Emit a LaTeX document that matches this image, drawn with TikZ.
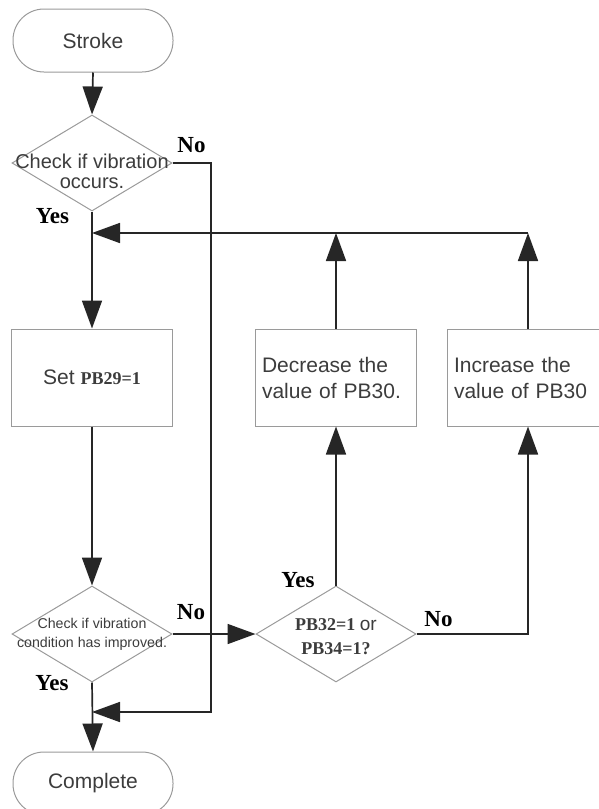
\documentclass[tikz,border=0pt]{standalone}
\usepackage{fontspec}
\setmainfont{Liberation Serif}
\setsansfont{Liberation Sans}
\usetikzlibrary{shapes}
\usetikzlibrary{arrows.meta}
\definecolor{boxgray}{HTML}{9A9A9A}
\definecolor{textgray}{HTML}{3C3C3C}
\definecolor{linegray}{HTML}{262626}
\tikzset{
  flownode/.style = {align=center, inner sep=0pt, text centered,
    font=\sffamily\fontsize{21}{25}\selectfont, text=textgray,
    draw=boxgray, line width=1pt},
  term_node/.style = {flownode, rectangle, rounded corners=31pt,
    minimum width=160pt, minimum height=63pt},% debut / fin
  proc_node/.style = {flownode, rectangle, minimum width=161pt,
    minimum height=97pt},% etape
  side_node/.style = {proc_node, align=left, text width=148pt,
    inner xsep=6.5pt, font=\sffamily\fontsize{21}{26}\selectfont},% reglage PB30
  dec_node/.style = {flownode, diamond, minimum width=160pt,
    minimum height=96pt},% test
  cond_text/.style = {align=center, inner sep=0pt, text=textgray},
  yn_label/.style = {inner sep=0pt,
    font=\rmfamily\bfseries\fontsize{23}{23}\selectfont},
  flow/.style = {draw=linegray, line width=1.7pt,
    -{Triangle[length=28pt,width=20pt]}}
}
\newcommand{\pbval}[1]{{\rmfamily\bfseries\fontsize{18}{24}\selectfont #1}}

\begin{document}
\begin{tikzpicture}[x=1pt, y=-1pt]
  \useasboundingbox (0,0) rectangle (598,809);
  % main column
  \node [term_node] (stroke) at (93,40.5) {Stroke};
  \node [dec_node] (vib) at (92,163) {};
  \node [cond_text, font=\sffamily\fontsize{20}{20}\selectfont] (vib-text)
    at (92,171) {Check if vibration\\occurs.};
  \node [proc_node] (set) at (92,377.5) {Set \pbval{PB29=1}};
  \node [dec_node] (impr) at (92,634) {};
  \node [cond_text, font=\sffamily\fontsize{14.2}{19}\selectfont] (impr-text)
    at (92,634) {Check if vibration\\condition has improved.};
  \node [term_node] (done) at (93,783.5) {Complete};
  % right part
  \node [dec_node] (pbq) at (336,634) {};
  \node [cond_text, font=\fontsize{18}{24}\selectfont] (pbq-text) at (336,637)
    {\pbval{PB32=1} {\sffamily\fontsize{19}{24}\selectfont or}\\\pbval{PB34=1?}};
  \node [side_node] (dec) at (336,377.5) {Decrease the\\value of PB30.};
  \node [side_node] (inc) at (528,377.5) {Increase the\\value of PB30};
  \coordinate (loop) at (92,233);
  \coordinate (nobend) at (211,712);
  \coordinate (back) at (92,712);

  \draw [flow] (stroke.south) -- (vib.north);
  \draw [flow] (vib.south) -- (set.north);
  \draw [flow] (set.south) -- (impr.north);
  \draw [flow] (impr.south) -- (done.north);
  \draw [flow] (vib.east) -| (nobend) -- (back);
  \draw [flow] (impr.east) -- (pbq.west);
  \draw [flow] (pbq.north) -- (dec.south);
  \draw [flow] (pbq.east) -| (inc.south);
  \draw [flow] (dec.north) -- (dec.north |- loop);
  \draw [flow] (inc.north) -- (inc.north |- loop);
  \draw [flow] (inc.north |- loop) -- (loop);

  \node [yn_label] (vib-no) at (191.5,145) {No};
  \node [yn_label] (vib-yes) at (52.5,216) {Yes};
  \node [yn_label] (impr-no) at (191,612.5) {No};
  \node [yn_label] (impr-yes) at (52,683) {Yes};
  \node [yn_label] (pbq-yes) at (298,580) {Yes};
  \node [yn_label] (pbq-no) at (438.5,619) {No};
\end{tikzpicture}
\end{document}
